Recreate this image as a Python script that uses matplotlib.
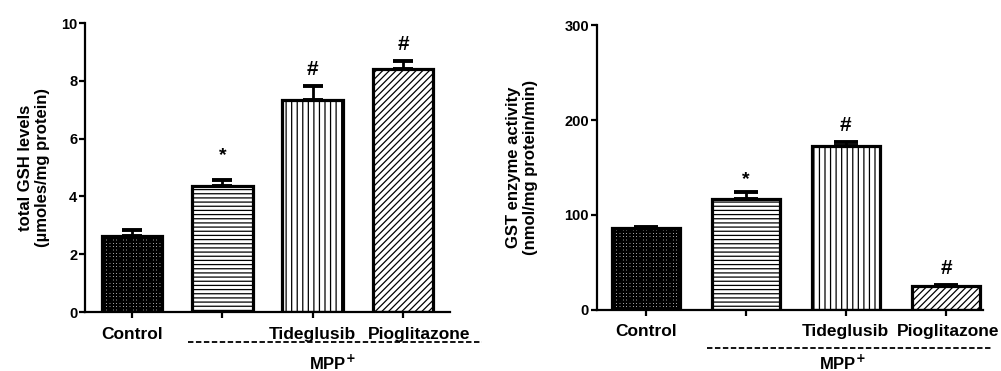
import matplotlib.pyplot as plt
import matplotlib.transforms as mtransforms

plt.rcParams["font.family"] = ["Liberation Sans", "DejaVu Sans"]
plt.rcParams["font.weight"] = "bold"

groups = ["Control", "", "Tideglusib", "Pioglitazone"]
hatches = ["+++++", "----", "|||", "/////"]
hatch_lw = [1.7, 0.9, 0.9, 0.9]

gsh_mean = [2.62, 4.37, 7.32, 8.40]
gsh_sem = [0.22, 0.20, 0.51, 0.30]
gsh_marks = ["", "*", "#", "#"]

gst_mean = [85.8, 116.6, 172.8, 25.3]
gst_sem = [1.0, 7.4, 3.6, 0.8]
gst_marks = ["", "*", "#", "#"]


def panel(ax, mean, sem, marks, ylim, yticks, ylabel, xlim, width, capsize,
          star_off, labelpad, last_shift, line_y, line_x, mpp_y, mpp_x):
    x = list(range(len(mean)))
    for xi, m, h, hl in zip(x, mean, hatches, hatch_lw):
        with plt.rc_context({"hatch.linewidth": hl}):
            ax.bar(xi, m, width=width, color="white", edgecolor="black",
                   linewidth=2.3, hatch=h, zorder=2)
    ax.errorbar(x, mean, yerr=[[0] * len(sem), sem], fmt="none",
                ecolor="black", elinewidth=2, capsize=capsize, capthick=2.8,
                zorder=3)
    for xi, m, s, mk in zip(x, mean, sem, marks):
        if mk:
            ax.annotate(mk, (xi, m + s),
                        xytext=(0, 5 if mk == "#" else star_off),
                        textcoords="offset points", ha="center", va="bottom",
                        fontsize=15 if mk == "#" else 14, fontweight="bold")
    ax.set_ylim(*ylim)
    ax.set_yticks(yticks)
    ax.set_xlim(*xlim)
    ax.set_xticks(x)
    ax.set_xticklabels(groups, fontsize=12.5, fontweight="bold")
    ax.set_ylabel(ylabel, fontsize=12, fontweight="bold", labelpad=labelpad)
    for s in ["top", "right"]:
        ax.spines[s].set_visible(False)
    for s in ["left", "bottom"]:
        ax.spines[s].set_linewidth(1.6)
    ax.tick_params(axis="y", labelsize=10.5, width=1.6, length=4.5, pad=1)
    ax.tick_params(axis="x", width=1.6, length=4.5, pad=6)
    for lab in ax.get_yticklabels():
        lab.set_fontweight("bold")
    last = ax.get_xticklabels()[-1]
    last.set_transform(last.get_transform() + mtransforms.ScaledTranslation(
        last_shift / 100, 0, ax.figure.dpi_scale_trans))

    trans = mtransforms.blended_transform_factory(ax.transData, ax.transAxes)
    ax.plot(line_x, [line_y, line_y], transform=trans, color="black",
            linewidth=1.3, linestyle=(0, (3, 1.4)), clip_on=False)
    ax.text(mpp_x, mpp_y, "MPP$^\\mathbf{+}$", transform=trans, ha="center",
            va="center", fontsize=12, fontweight="bold")


fig = plt.figure(figsize=(10.01, 3.71), dpi=100)
ax1 = fig.add_axes([0.0849, 0.159, 0.3646, 0.779])
ax2 = fig.add_axes([0.596, 0.1652, 0.386, 0.767])

panel(ax1, gsh_mean, gsh_sem, gsh_marks, (0, 10), [0, 2, 4, 6, 8, 10],
      "total GSH levels\n(µmoles/mg protein)", (-0.52, 3.52), 0.67, 7.5,
      11.5, 8, 16, -0.104, [0.62, 3.88], -0.175, 2.22)
panel(ax2, gst_mean, gst_sem, gst_marks, (0, 300), [0, 100, 200, 300],
      "GST enzyme activity\n(nmol/mg protein/min)", (-0.49, 3.37), 0.68, 8.5,
      3, 19, 2, -0.133, [0.61, 3.46], -0.187, 1.97)

fig.savefig("out.png", dpi=100)
